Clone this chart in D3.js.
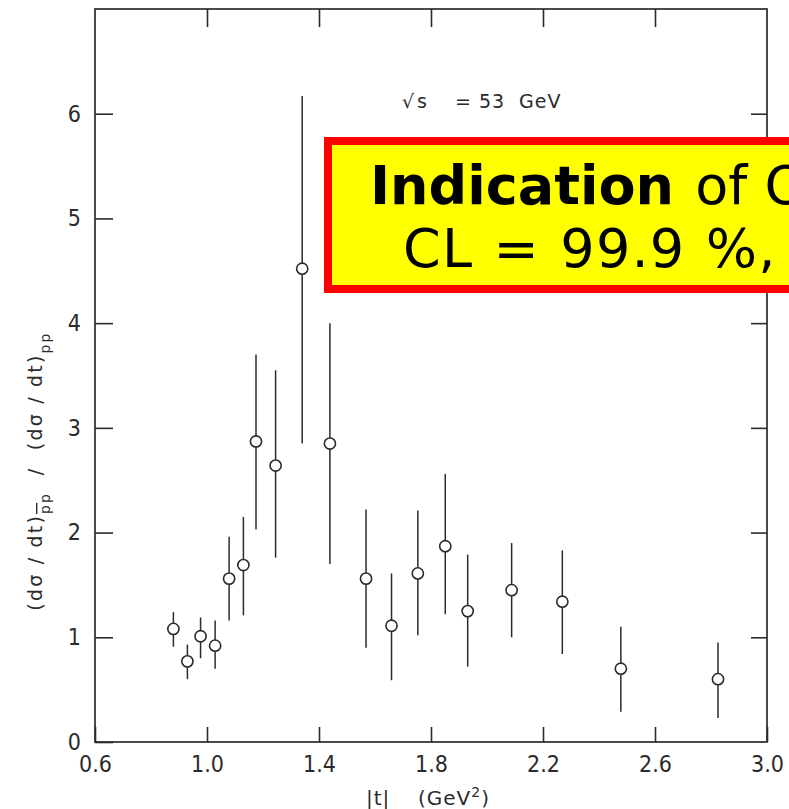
<!DOCTYPE html>
<html>
<head>
<meta charset="utf-8">
<script src="https://cdn.jsdelivr.net/npm/d3@7"></script>
<style>
  html, body { margin: 0; padding: 0; background: #fff; overflow: hidden; }
  svg { display: block; }
  text { white-space: pre; }
</style>
</head>
<body>
<script>
// |t| bin centres (GeV^2)
const tValues = [0.88, 0.93, 0.977, 1.029, 1.079, 1.13, 1.175, 1.245, 1.34, 1.439,
                 1.568, 1.659, 1.753, 1.851, 1.931, 2.088, 2.269, 2.478, 2.825];
// ratio (dσ/dt)p̄p / (dσ/dt)pp
const ratio   = [1.08, 0.77, 1.01, 0.92, 1.56, 1.69, 2.87, 2.64, 4.52, 2.85,
                 1.56, 1.11, 1.61, 1.87, 1.25, 1.45, 1.34, 0.70, 0.60];
// upper and lower ends of the error bars
const errHigh = [1.24, 0.93, 1.19, 1.16, 1.96, 2.15, 3.70, 3.55, 6.17, 4.00,
                 2.22, 1.61, 2.21, 2.56, 1.79, 1.90, 1.83, 1.10, 0.95];
const errLow  = [0.91, 0.60, 0.80, 0.70, 1.16, 1.21, 2.03, 1.76, 2.85, 1.70,
                 0.90, 0.59, 1.02, 1.22, 0.72, 1.00, 0.84, 0.29, 0.23];

const xTicks = [0.6, 1.0, 1.4, 1.8, 2.2, 2.6, 3.0];
const yTicks = [0, 1, 2, 3, 4, 5, 6];

const W = 789, H = 809;
const ink = "#2b2b2b";
const plotFont = "'DejaVu Sans', sans-serif";
const tickFont = "'DejaVu Sans Condensed', 'DejaVu Sans', sans-serif";

const svg = d3.select("body").append("svg")
  .attr("width", W).attr("height", H);

const x = d3.scaleLinear().domain([0.6, 3.0]).range([95, 767]);
const y = d3.scaleLinear().domain([0, 7]).range([742, 9]);

const fmt = d3.format(".1f");

// bottom axis: ticks point inwards
const gx = svg.append("g").attr("transform", `translate(0,${y(0)})`)
  .call(d3.axisBottom(x).tickValues(xTicks).tickFormat(fmt)
        .tickSizeInner(-15).tickSizeOuter(0).tickPadding(14));
// top axis: unlabeled inward ticks
const gxt = svg.append("g").attr("transform", `translate(0,${y(7)})`)
  .call(d3.axisTop(x).tickValues(xTicks.slice(1, -1)).tickFormat("")
        .tickSizeInner(-18).tickSizeOuter(0));
// left axis
const gy = svg.append("g").attr("transform", `translate(${x(0.6)},0)`)
  .call(d3.axisLeft(y).tickValues(yTicks).tickFormat(d3.format("d"))
        .tickSizeInner(-18).tickSizeOuter(0).tickPadding(14));
// right axis: unlabeled inward ticks
const gyr = svg.append("g").attr("transform", `translate(${x(3.0)},0)`)
  .call(d3.axisRight(y).tickValues(yTicks.slice(1)).tickFormat("")
        .tickSizeInner(-16).tickSizeOuter(0));

[gx, gxt, gy, gyr].forEach(g => {
  g.attr("font-family", tickFont).attr("font-size", 23);
  g.select(".domain").remove();
  g.selectAll(".tick line").attr("stroke", ink).attr("stroke-width", 1.6);
  g.selectAll(".tick text").attr("fill", ink);
});

// frame
svg.append("rect")
  .attr("x", x(0.6)).attr("y", y(7))
  .attr("width", x(3.0) - x(0.6)).attr("height", y(0) - y(7))
  .attr("fill", "none").attr("stroke", ink).attr("stroke-width", 1.7);

// error bars
const pts = tValues.map((t, i) => ({ t, v: ratio[i], hi: errHigh[i], lo: errLow[i] }));
svg.append("g").selectAll("line").data(pts).join("line")
  .attr("x1", d => x(d.t)).attr("x2", d => x(d.t))
  .attr("y1", d => y(d.hi)).attr("y2", d => y(d.lo))
  .attr("stroke", ink).attr("stroke-width", 1.5);

// open circle markers
svg.append("g").selectAll("circle").data(pts).join("circle")
  .attr("cx", d => x(d.t)).attr("cy", d => y(d.v)).attr("r", 5.6)
  .attr("fill", "#fff").attr("stroke", ink).attr("stroke-width", 1.6);

// energy annotation
const ann = svg.append("text")
  .attr("y", 108)
  .attr("font-family", plotFont)
  .attr("font-size", 19).attr("letter-spacing", 1).attr("fill", ink);
ann.append("tspan").attr("x", 402).text("\u221A");
ann.append("tspan").attr("x", 417).text("s");
ann.append("tspan").attr("x", 455).text("=");
ann.append("tspan").attr("x", 479).text("53");
ann.append("tspan").attr("x", 519).text("GeV");

// x-axis title
const xt = svg.append("text")
  .attr("y", 805)
  .attr("font-family", plotFont)
  .attr("font-size", 20).attr("letter-spacing", 1).attr("fill", ink);
xt.append("tspan").attr("x", 366).text("|t|");
xt.append("tspan").attr("x", 418).text("(GeV");
xt.append("tspan").attr("baseline-shift", "super").attr("font-size", 14).text("2");
xt.append("tspan").text(")");

// y-axis title
const yt = svg.append("text")
  .attr("transform", "translate(42,471) rotate(-90)")
  .attr("text-anchor", "middle")
  .attr("font-family", plotFont)
  .attr("font-size", 19).attr("letter-spacing", 2.2).attr("fill", ink);
yt.append("tspan").text("(d\u03C3 / dt)");
yt.append("tspan").attr("baseline-shift", "sub").attr("font-size", 14)
  .attr("text-decoration", "overline").text("p");
yt.append("tspan").attr("baseline-shift", "sub").attr("font-size", 14).text("p");
yt.append("tspan").text("  /  (d\u03C3 / dt)");
yt.append("tspan").attr("baseline-shift", "sub").attr("font-size", 14).text("pp");

// highlighted statement box
svg.append("rect")
  .attr("x", 328).attr("y", 141).attr("width", 600).attr("height", 148)
  .attr("fill", "#ffff00").attr("stroke", "#ff0000").attr("stroke-width", 8);

const l1 = svg.append("text")
  .attr("x", 370).attr("y", 204)
  .attr("font-family", "Verdana, 'DejaVu Sans', sans-serif")
  .attr("font-size", 54).attr("fill", "#000");
l1.append("tspan").attr("font-weight", "bold").text("Indication");
l1.append("tspan").attr("dx", 4).text(" of Odderon");

svg.append("text")
  .attr("x", 403).attr("y", 267)
  .attr("font-family", "Verdana, 'DejaVu Sans', sans-serif")
  .attr("font-size", 54).attr("letter-spacing", 1.2).attr("word-spacing", 2)
  .attr("fill", "#000")
  .text("CL = 99.9 %, 3.4 \u03C3");
</script>
</body>
</html>
